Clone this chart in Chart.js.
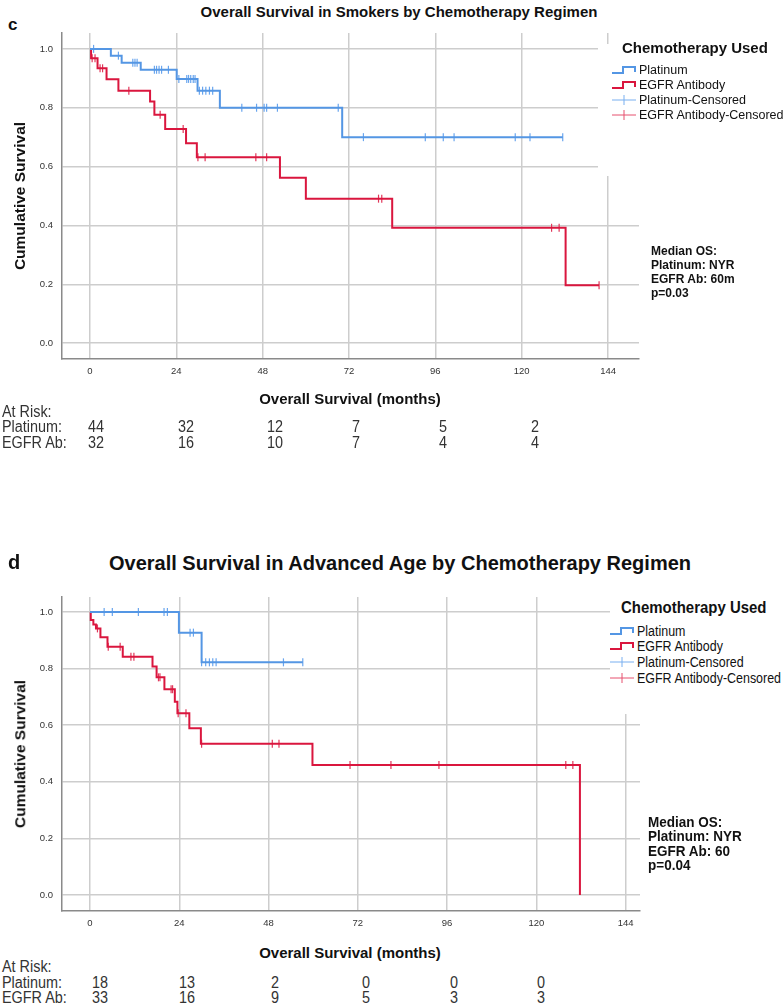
<!DOCTYPE html>
<html>
<head>
<meta charset="utf-8">
<script src="https://cdn.jsdelivr.net/npm/chart.js@4.4.1/dist/chart.umd.min.js"></script>
<style>
    body { margin: 0; background: #fff; }
    #page { position: relative; width: 783px; height: 1006px; overflow: hidden; font-family: 'Liberation Sans', Arial, sans-serif; color: #111; }
    .abs { position: absolute; white-space: nowrap; line-height: 1; }
    .mid { transform: translate(-50%, -50%); }
    .vmid { transform: translateY(-50%); }
    canvas { position: absolute; left: 0; }
    .legend-box { position: absolute; background: #fff; }
    .legend-box .row { position: absolute; display: flex; align-items: center; white-space: nowrap; transform: translateY(-50%); }
    .legend-box svg { margin-right: 2px; flex: none; }
    .squeeze { display: inline-block; transform-origin: left center; }
    .ylab { transform: translate(-50%, -50%) rotate(-90deg); }
    .risk { color: #333; font-size: 16px; }
    .risk.lab { transform: translateY(-50%) scaleX(0.9); transform-origin: left center; }
    .risk.num { transform: translate(-50%, -50%) scaleX(0.9); }
</style>
</head>
<body>
<div id="page">
    <!-- Panel c -->
    <div class="abs" style="left:8px;top:24px;transform:translateY(-50%);font-weight:bold;font-size:17px;">c</div>
    <div class="abs mid" style="left:399px;top:11px;font-weight:bold;font-size:15px;">Overall Survival in Smokers by Chemotherapy Regimen</div>
    <canvas id="chartC" width="783" height="390" style="top:0px"></canvas>
    <div class="legend-box" style="left:598px;top:44px;width:185px;height:132px;">
        <div class="abs vmid" style="left:24px;top:3px;font-weight:bold;font-size:15px;">Chemotherapy Used</div>
        <div class="row" style="left:14px;top:26px;font-size:12.5px;"><svg width="25" height="10"><path d="M0,8 H11 V2 H23 V7" stroke="rgb(84,150,228)" stroke-width="2" fill="none"/></svg>Platinum</div>
        <div class="row" style="left:14px;top:41px;font-size:12.5px;"><svg width="25" height="10"><path d="M0,8 H11 V2 H23 V7" stroke="rgb(218,22,62)" stroke-width="2" fill="none"/></svg>EGFR Antibody</div>
        <div class="row" style="left:14px;top:56px;font-size:12.5px;"><svg width="25" height="10"><path d="M0,5 H24 M12,0 V10" stroke="rgb(120,175,240)" stroke-width="1" fill="none"/></svg>Platinum-Censored</div>
        <div class="row" style="left:14px;top:71px;font-size:12.5px;"><svg width="25" height="10"><path d="M0,5 H24 M12,0 V10" stroke="rgb(230,80,110)" stroke-width="1" fill="none"/></svg>EGFR Antibody-Censored</div>
    </div>
    <div class="abs" style="left:651px;top:244px;font-weight:bold;font-size:12px;line-height:14px;">Median OS:<br>Platinum: NYR<br>EGFR Ab: 60m<br>p=0.03</div>
    <div class="abs ylab" style="left:20px;top:196px;font-weight:bold;font-size:15.5px;">Cumulative Survival</div>
    <div class="abs mid" style="left:350px;top:398px;font-weight:bold;font-size:15px;">Overall Survival (months)</div>
    <div id="riskC"></div>

    <!-- Panel d -->
    <div class="abs" style="left:8px;top:562px;transform:translateY(-50%);font-weight:bold;font-size:20px;">d</div>
    <div class="abs mid" style="left:400px;top:563px;font-weight:bold;font-size:20px;">Overall Survival in Advanced Age by Chemotherapy Regimen</div>
    <canvas id="chartD" width="783" height="380" style="top:560px"></canvas>
    <div class="legend-box" style="left:610px;top:590px;width:173px;height:124px;">
        <div class="abs" style="left:11px;top:17px;font-weight:bold;font-size:17px;transform:translateY(-50%) scaleX(0.88);transform-origin:left center;">Chemotherapy Used</div>
        <div class="row" style="left:0px;top:41px;font-size:14px;"><svg width="25" height="10"><path d="M0,8 H11 V2 H23 V7" stroke="rgb(84,150,228)" stroke-width="2" fill="none"/></svg><span class="squeeze" style="transform:scaleX(0.89)">Platinum</span></div>
        <div class="row" style="left:0px;top:56px;font-size:14px;"><svg width="25" height="10"><path d="M0,8 H11 V2 H23 V7" stroke="rgb(218,22,62)" stroke-width="2" fill="none"/></svg><span class="squeeze" style="transform:scaleX(0.89)">EGFR Antibody</span></div>
        <div class="row" style="left:0px;top:72px;font-size:14px;"><svg width="25" height="10"><path d="M0,5 H24 M12,0 V10" stroke="rgb(120,175,240)" stroke-width="1" fill="none"/></svg><span class="squeeze" style="transform:scaleX(0.89)">Platinum-Censored</span></div>
        <div class="row" style="left:0px;top:88px;font-size:14px;"><svg width="25" height="10"><path d="M0,5 H24 M12,0 V10" stroke="rgb(230,80,110)" stroke-width="1" fill="none"/></svg><span class="squeeze" style="transform:scaleX(0.89)">EGFR Antibody-Censored</span></div>
    </div>
    <div class="abs" style="left:648px;top:815px;font-weight:bold;font-size:15px;line-height:14.3px;transform:scaleX(0.9);transform-origin:left top;">Median OS:<br>Platinum: NYR<br>EGFR Ab: 60<br>p=0.04</div>
    <div class="abs ylab" style="left:20px;top:754px;font-weight:bold;font-size:15.5px;">Cumulative Survival</div>
    <div class="abs mid" style="left:350px;top:952px;font-weight:bold;font-size:15px;">Overall Survival (months)</div>
    <div id="riskD"></div>
</div>

<script>
// Axis ticks
const xTicks = [0, 24, 48, 72, 96, 120, 144];
const yTicks = [0, 0.2, 0.4, 0.6, 0.8, 1.0];

// Panel c - smokers
const cPlatTimes = [5.8, 8.8, 14.1, 24.1, 29.9, 36.1, 70.1];
const cPlatSurv  = [0.977, 0.953, 0.929, 0.898, 0.858, 0.800, 0.700];
const cPlatCens  = [1.0, 7.9, 11.9, 12.5, 13.1, 17.9, 18.5, 19.2, 19.9, 21.8, 24.7, 26.9, 27.4, 28.0, 28.7, 29.2,
                    30.4, 31.3, 32.2, 33.2, 34.1, 42.2, 46.3, 48.4, 49.1, 52.1, 69.0, 76.0, 93.2, 98.2, 101.2,
                    118.2, 122.3, 131.4];
const cEgfrTimes = [0.3, 2.1, 4.6, 7.9, 16.7, 17.9, 20.9, 26.7, 29.7, 52.8, 60.0, 84.0, 132.2];
const cEgfrSurv  = [0.968, 0.934, 0.897, 0.858, 0.821, 0.776, 0.728, 0.679, 0.632, 0.562, 0.491, 0.392, 0.197];
const cEgfrCens  = [0.6, 1.4, 2.8, 3.5, 10.8, 19.5, 25.9, 30.0, 32.0, 46.1, 49.1, 80.2, 81.1, 128.3, 130.4, 141.5];

// Panel d - advanced age
const dPlatTimes = [23.9, 30.0];
const dPlatSurv  = [0.927, 0.822];
const dPlatCens  = [3.8, 6.0, 13.0, 19.9, 20.8, 26.9, 27.8, 30.0, 31.1, 32.1, 33.0, 33.9, 52.0, 57.2];
const dEgfrTimes = [0.2, 0.9, 1.6, 2.8, 4.7, 8.8, 16.8, 17.9, 20.0, 22.8, 23.5, 26.7, 29.8, 59.8, 131.7];
const dEgfrSurv  = [0.972, 0.956, 0.942, 0.911, 0.877, 0.842, 0.807, 0.769, 0.727, 0.683, 0.642, 0.589, 0.534, 0.459, 0.0];
const dEgfrCens  = [2.0, 4.9, 8.1, 11.0, 11.8, 18.4, 18.8, 21.8, 22.2, 23.7, 25.8, 30.0, 49.0, 50.8, 69.9, 80.9,
                    93.8, 127.9, 129.8];

// Numbers at risk
const riskLabels = ['Platinum:', 'EGFR Ab:'];
const cRiskPlat = [44, 32, 12, 7, 5, 2];
const cRiskEgfr = [32, 16, 10, 7, 4, 4];
const dRiskPlat = [18, 13, 2, 0, 0, 0];
const dRiskEgfr = [33, 16, 9, 5, 3, 3];

const blue = 'rgb(84,150,228)';
const red = 'rgb(218,22,62)';
const blueCens = 'rgb(105,165,238)';
const redCens = 'rgb(225,55,90)';
const tickFont = "'Liberation Sans', Arial, sans-serif";

function survAt(t, times, surv) {
    let s = 1;
    times.forEach((tt, i) => { if (tt <= t) s = surv[i]; });
    return s;
}

function stepData(times, surv, cens) {
    const pts = [{x: 0, y: 1}];
    times.forEach((t, i) => pts.push({x: t, y: surv[i]}));
    const lastT = times[times.length - 1];
    const end = Math.max(lastT, ...cens);
    if (end > lastT) pts.push({x: end, y: surv[surv.length - 1]});
    return pts;
}

function censData(times, surv, cens) {
    return cens.map(t => ({x: t, y: survAt(t, times, surv)}));
}

function lineSet(times, surv, cens, color) {
    return {
        data: stepData(times, surv, cens),
        showLine: true,
        stepped: 'before',
        borderColor: color,
        borderWidth: 2,
        pointRadius: 0,
        fill: false
    };
}

function censSet(times, surv, cens, color) {
    return {
        data: censData(times, surv, cens),
        showLine: false,
        pointStyle: 'line',
        pointRotation: 90,
        pointRadius: 4,
        pointBorderWidth: 1.2,
        pointBorderColor: color,
        borderColor: color
    };
}

function makeChart(id, p) {
    const ctx = document.getElementById(id).getContext('2d');
    return new Chart(ctx, {
        type: 'scatter',
        data: {
            datasets: [
                lineSet(p.plat[0], p.plat[1], p.plat[2], blue),
                lineSet(p.egfr[0], p.egfr[1], p.egfr[2], red),
                censSet(p.plat[0], p.plat[1], p.plat[2], blueCens),
                censSet(p.egfr[0], p.egfr[1], p.egfr[2], redCens)
            ]
        },
        options: {
            responsive: false,
            animation: false,
            events: [],
            layout: { padding: { left: 0, top: p.top, right: p.right, bottom: 0 } },
            plugins: { legend: { display: false }, tooltip: { enabled: false } },
            scales: {
                x: {
                    type: 'linear',
                    min: p.xMin,
                    max: p.xMax,
                    afterFit: s => { s.height = p.xh; },
                    afterBuildTicks: s => { s.ticks = xTicks.map(v => ({value: v})); },
                    grid: { color: '#cdcdcd', lineWidth: 1.5, drawTicks: false },
                    border: { color: '#8a8a8a', width: 1.5 },
                    ticks: { padding: 7, color: '#333', maxRotation: 0, font: { family: tickFont, size: 9.5 } }
                },
                y: {
                    type: 'linear',
                    min: p.yMin,
                    max: p.yMax,
                    afterFit: s => { s.width = 62; },
                    afterBuildTicks: s => { s.ticks = yTicks.map(v => ({value: v})); },
                    grid: { color: '#cdcdcd', lineWidth: 1.5, drawTicks: false },
                    border: { color: '#8a8a8a', width: 1.5 },
                    ticks: {
                        padding: 9, color: '#333', font: { family: tickFont, size: 9.5 },
                        callback: v => v.toFixed(1)
                    }
                }
            }
        }
    });
}

const cChart = makeChart('chartC', {
    plat: [cPlatTimes, cPlatSurv, cPlatCens],
    egfr: [cEgfrTimes, cEgfrSurv, cEgfrCens],
    top: 33, right: 144, xh: 31,
    xMin: -7.78, xMax: 152.6, yMin: -0.054, yMax: 1.054
});

const dChart = makeChart('chartD', {
    plat: [dPlatTimes, dPlatSurv, dPlatCens],
    egfr: [dEgfrTimes, dEgfrSurv, dEgfrCens],
    top: 37, right: 143, xh: 29,
    xMin: -7.53, xMax: 147.85, yMin: -0.057, yMax: 1.053
});

// At-risk table under each panel
function riskTable(id, rows, xs, ys) {
    const box = document.getElementById(id);
    let html = `<div class="abs risk lab" style="left:2px;top:${ys[0]}px;">At Risk:</div>`;
    rows.forEach((vals, r) => {
        html += `<div class="abs risk lab" style="left:2px;top:${ys[r + 1]}px;">${riskLabels[r]}</div>`;
        vals.forEach((v, i) => {
            html += `<div class="abs risk num" style="left:${xs[i]}px;top:${ys[r + 1]}px;">${v}</div>`;
        });
    });
    box.innerHTML = html;
}

riskTable('riskC', [cRiskPlat, cRiskEgfr], [96, 186, 275, 356, 443, 535], [412, 427, 443]);
riskTable('riskD', [dRiskPlat, dRiskEgfr], [100, 187, 275, 366, 454, 541], [967, 983, 998]);
</script>
</body>
</html>
